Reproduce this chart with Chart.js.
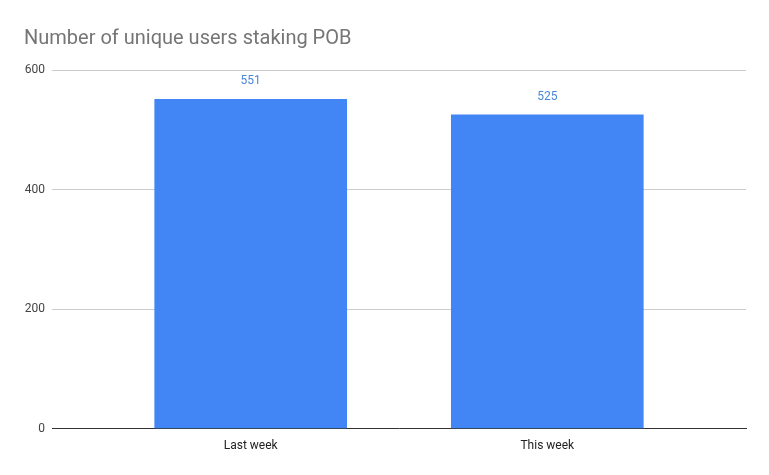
<!DOCTYPE html>
<html>
<head>
<meta charset="utf-8">
<script src="https://cdn.jsdelivr.net/npm/chart.js@4"></script>
<style>
  html, body { margin: 0; padding: 0; background: #fff; }
  #wrap { width: 769px; height: 475px; }
</style>
</head>
<body>
<div id="wrap"><canvas id="chart"></canvas></div>
<script>
const categories = ["Last week", "This week"];
const users = [551, 525];
const yTicks = [0, 200, 400, 600];

// value labels above each bar
const barLabels = {
    id: "barLabels",
    afterDatasetsDraw(chart) {
        const ctx = chart.ctx;
        ctx.save();
        ctx.font = "12px Roboto";
        ctx.fillStyle = "#4a86d8";
        ctx.textAlign = "center";
        ctx.textBaseline = "bottom";
        chart.getDatasetMeta(0).data.forEach((bar, i) => {
            ctx.fillText(users[i], bar.x, bar.y - 12);
        });
        ctx.restore();
    }
};

new Chart(document.getElementById("chart"), {
    type: "bar",
    data: {
        datasets: [{
            data: users.map((v, i) => ({ x: i, y: v })),
            backgroundColor: "#4285f4",
            barThickness: 192
        }]
    },
    options: {
        responsive: true,
        maintainAspectRatio: false,
        animation: false,
        layout: { padding: { left: 24, right: 23, top: 15, bottom: 20 } },
        plugins: {
            legend: { display: false },
            tooltip: { enabled: false },
            title: {
                display: true,
                text: "Number of unique users staking POB",
                align: "start",
                color: "#757575",
                font: { family: "Roboto", size: 20, weight: "normal" },
                padding: { top: 12, bottom: 19 }
            }
        },
        scales: {
            x: {
                type: "linear",
                min: -0.67,
                max: 1.67,
                offset: false,
                afterBuildTicks(axis) { axis.ticks = categories.map((c, i) => ({ value: i })); },
                grid: { display: false },
                border: { color: "#333", width: 1 },
                ticks: {
                    color: "#222",
                    font: { family: "Roboto", size: 12 },
                    padding: 2,
                    callback: v => categories[v]
                }
            },
            y: {
                min: 0,
                max: 600,
                afterBuildTicks(axis) { axis.ticks = yTicks.map(v => ({ value: v })); },
                afterFit(axis) { axis.width = 28; },
                grid: { color: "#cccccc", drawTicks: false },
                border: { display: false },
                ticks: { color: "#444", font: { family: "Roboto", size: 12 }, padding: 7 }
            }
        }
    },
    plugins: [barLabels]
});
</script>
</body>
</html>
